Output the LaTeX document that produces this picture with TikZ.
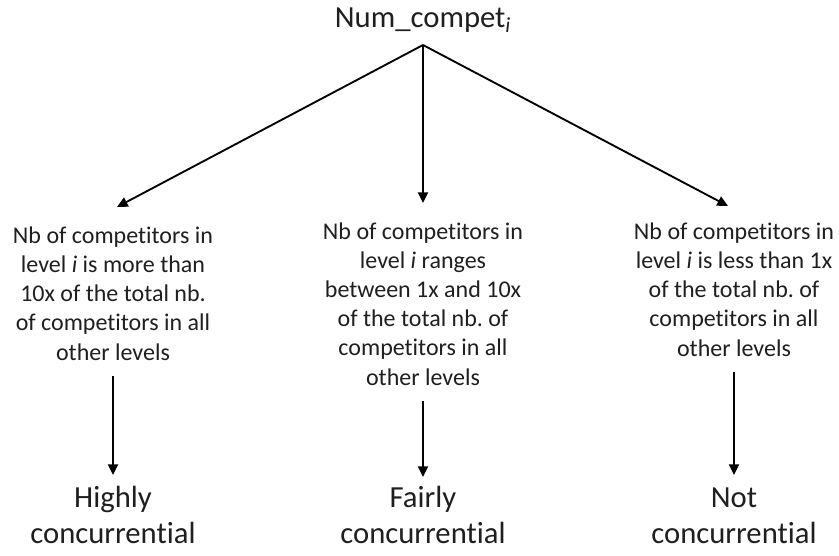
\documentclass[tikz,border=0pt]{standalone}
\usepackage{fontspec}
\setmainfont{Carlito}[Ligatures=CommonOff]
\usepackage{xcolor}
\usetikzlibrary{arrows.meta,positioning}
\frenchspacing

\begin{document}
\begin{tikzpicture}[x=0.75pt,y=-0.75pt,
  cond/.style={align=center,inner sep=0pt,anchor=base,text=black!88,
               font=\fontsize{18}{21.8}\selectfont},
  res/.style={align=center,inner sep=0pt,anchor=base,text=black!88,
              font=\fontsize{23}{26.3}\selectfont},
  >={Triangle[length=8pt,width=7.5pt]},line width=1.4pt]
\useasboundingbox (0,0) rectangle (839,556);
\node[inner sep=0pt,anchor=base,text=black!88,font=\fontsize{23}{27}\selectfont] (num) at (423,28)
  {Num\_compet\textsubscript{\textit{i}}};
\coordinate (apex) at (423,45);
\node[cond] (more) at (113,360) {Nb of competitors in\\level \textit{i} is more than\\10x of the total nb.\\of competitors in all\\other levels};
\node[cond] (range) at (423,385) {Nb of competitors in\\level \textit{i} ranges\\between 1x and 10x\\of the total nb. of\\competitors in all\\other levels};
\node[cond] (less) at (734,356) {Nb of competitors in\\level \textit{i} is less than 1x\\of the total nb. of\\competitors in all\\other levels};
\node[res] (high) at (113,543) {Highly\\concurrential};
\node[res] (fair) at (423,543) {Fairly\\concurrential};
\node[res] (not) at (734,543) {Not\\concurrential};
\draw[->] (apex) -- ([shift={(4,-153)}]more.base);
\draw[->] (apex) -- ([shift={(0,-182)}]range.base);
\draw[->] (apex) -- ([shift={(-6,-150)}]less.base);
\draw[->] ([shift={(0,15)}]more.south) -- ([shift={(0,-68)}]high.base);
\draw[->] ([shift={(0,15)}]range.south) -- ([shift={(0,-66)}]fair.base);
\draw[->] ([shift={(0,15)}]less.south) -- ([shift={(0,-68)}]not.base);
\end{tikzpicture}
\end{document}
